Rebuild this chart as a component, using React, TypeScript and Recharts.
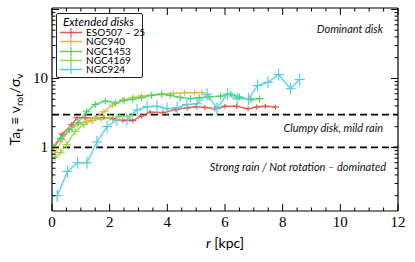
import { Label, Legend, Line, LineChart, ReferenceLine, XAxis, YAxis } from "recharts";

const xTicks = [0, 0.5, 1, 1.5, 2, 2.5, 3, 3.5, 4, 4.5, 5, 5.5, 6, 6.5, 7, 7.5, 8, 8.5, 9, 9.5, 10, 10.5, 11, 11.5, 12];
const xTickLabels = [0, 2, 4, 6, 8, 10, 12];
const yTicks = [
  0.2, 0.3, 0.4, 0.5, 0.6, 0.7, 0.8, 0.9, 1, 2, 3, 4, 5, 6, 7, 8, 9, 10, 20, 30, 40, 50, 60, 70, 80, 90, 100,
];
const yTickLabels = [1, 10];

const esoR = [0.05, 0.35, 0.69, 0.87, 1.15, 1.5, 1.8, 2.1, 2.45, 2.8, 3.1, 3.4, 3.85, 4.3, 4.7, 5.0, 5.3, 5.65, 6.0, 6.4, 6.8, 7.1, 7.4, 7.75];
const esoTa = [1.0, 1.55, 2.15, 2.7, 2.7, 2.7, 2.7, 2.6, 2.45, 2.45, 2.85, 3.25, 3.2, 3.55, 3.75, 3.9, 3.8, 3.65, 3.95, 3.95, 3.65, 3.85, 3.95, 3.85];

const n940R = [0.1, 0.35, 0.6, 0.9, 1.2, 1.5, 1.8, 2.1, 2.45, 2.8, 3.1, 3.45, 3.8, 4.2, 4.6, 4.95, 5.2];
const n940Ta = [0.85, 1.3, 1.8, 2.15, 2.4, 2.7, 3.3, 4.1, 4.9, 5.3, 5.55, 5.7, 6.0, 6.05, 6.2, 6.2, 6.25];

const n1453R = [0.06, 0.3, 0.6, 0.9, 1.2, 1.5, 1.85, 2.2, 2.5, 2.8, 3.1, 3.45, 3.8, 4.1, 4.45, 4.8, 5.1, 5.45, 5.85, 6.2, 6.5, 6.9, 7.2];
const n1453Ta = [1.0, 1.35, 1.8, 2.3, 3.3, 4.2, 4.7, 4.4, 4.8, 5.0, 5.25, 5.7, 5.9, 5.7, 5.3, 5.1, 5.25, 5.4, 5.55, 5.9, 5.4, 4.9, 5.1];

const n4169R = [0.1, 0.3, 0.5, 0.8, 1.1, 1.4, 1.7, 2.0, 2.35, 2.7];
const n4169Ta = [0.72, 0.85, 1.1, 1.7, 2.15, 2.45, 2.6, 2.7, 2.8, 2.85];

const n924R = [0.18, 0.54, 0.89, 1.21, 1.56, 1.91, 2.25, 2.6, 2.95, 3.3, 3.64, 3.99, 4.34, 4.68, 5.03, 5.38, 5.72, 6.09, 6.42, 6.82, 7.13, 7.49, 7.86, 8.27, 8.59];
const n924Ta = [0.2, 0.45, 0.6, 0.6, 1.2, 2.0, 2.5, 2.55, 3.5, 3.9, 3.95, 3.65, 3.75, 4.2, 4.3, 5.9, 3.7, 6.0, 5.1, 5.1, 7.9, 8.8, 11.4, 7.1, 9.7];

const galaxies = [
  { name: "ESO507 \u2013 25", r: esoR, ta: esoTa, color: "#e8574f", dx: 3.5, dy: 2.5 },
  { name: "NGC940", r: n940R, ta: n940Ta, color: "#e2b64c", dx: 4, dy: 3 },
  { name: "NGC1453", r: n1453R, ta: n1453Ta, color: "#45d968", dx: 4, dy: 3.5 },
  { name: "NGC4169", r: n4169R, ta: n4169Ta, color: "#98d64a", dx: 4, dy: 3.5 },
  { name: "NGC924", r: n924R, ta: n924Ta, color: "#55cfe0", dx: 5, dy: 6 },
];

const SANS = "Lato, 'Open Sans', sans-serif";
const SERIF = "'Liberation Serif', 'DejaVu Serif', serif";

function makeCross(color: string, dx: number, dy: number) {
  return (p: any) => {
    const { cx, cy, index } = p;
    if (cx == null || cy == null) return <g key={index} />;
    return (
      <g key={index} stroke={color} strokeWidth={1.2}>
        <line x1={cx - dx} x2={cx + dx} y1={cy} y2={cy} />
        <line x1={cx} x2={cx} y1={cy - dy} y2={cy + dy} />
      </g>
    );
  };
}

function BottomTick({ x, y, payload }: any) {
  const v = payload.value;
  const major = xTickLabels.includes(v);
  return (
    <g>
      <line x1={x} x2={x} y1={y} y2={y - (major ? 7 : 3.5)} stroke="#000" strokeWidth={1} />
      {major && (
        <text x={x} y={y + 16} textAnchor="middle" fontFamily={SERIF} fontSize={15} fill="#000">
          {v}
        </text>
      )}
    </g>
  );
}

function TopTick({ x, y, payload }: any) {
  const major = xTickLabels.includes(payload.value);
  return <line x1={x} x2={x} y1={y} y2={y + (major ? 7 : 3.5)} stroke="#000" strokeWidth={1} />;
}

function LeftTick({ x, y, payload }: any) {
  const v = payload.value;
  const major = v === 1 || v === 10 || v === 100;
  return (
    <g>
      <line x1={x} x2={x + (major ? 7 : 3.5)} y1={y} y2={y} stroke="#000" strokeWidth={1} />
      {yTickLabels.includes(v) && (
        <text x={x - 4} y={y + 5} textAnchor="end" fontFamily={SERIF} fontSize={15} fill="#000">
          {v}
        </text>
      )}
    </g>
  );
}

function RightTick({ x, y, payload }: any) {
  const v = payload.value;
  const major = v === 1 || v === 10 || v === 100;
  return <line x1={x} x2={x - (major ? 7 : 3.5)} y1={y} y2={y} stroke="#000" strokeWidth={1} />;
}

function YTitle({ viewBox }: any) {
  const cx = viewBox.x + 20;
  const cy = viewBox.y + viewBox.height / 2;
  return (
    <text
      x={cx}
      y={cy}
      transform={`rotate(-90, ${cx}, ${cy})`}
      textAnchor="middle"
      fontFamily={SANS}
      fontSize={14}
      fill="#000"
    >
      Ta
      <tspan dy={3} fontSize={10}>t</tspan>
      <tspan dy={-3}> {"\u2261"} v</tspan>
      <tspan dy={3} fontSize={10}>rot</tspan>
      <tspan dy={-3}>/{"\u03c3"}</tspan>
      <tspan dy={3} fontSize={10}>v</tspan>
    </text>
  );
}

function XTitle({ viewBox }: any) {
  const cx = viewBox.x + viewBox.width / 2;
  return (
    <text x={cx} y={viewBox.y + 37} textAnchor="middle" fontFamily={SANS} fontSize={14} fill="#000">
      <tspan fontStyle="italic">r</tspan> [kpc]
    </text>
  );
}

function RegimeLabels({ viewBox }: any) {
  const right = viewBox.x + viewBox.width - 15;
  const y3 = viewBox.y;
  return (
    <g fontFamily={SANS} fontStyle="italic" fontSize={11} fill="#111">
      <text x={right} y={y3 + 17} textAnchor="end">
        Clumpy disk,  mild rain
      </text>
      <text x={right} y={33} textAnchor="end">
        Dominant disk
      </text>
    </g>
  );
}

function StrongLabel({ viewBox }: any) {
  const right = viewBox.x + viewBox.width - 12;
  return (
    <text x={right} y={viewBox.y + 24} textAnchor="end" fontFamily={SANS} fontStyle="italic" fontSize={11} fill="#111">
      Strong rain / Not rotation {"\u2013"} dominated
    </text>
  );
}

function LegendBox() {
  return (
    <div
      style={{
        border: "1px solid #222",
        borderRadius: 2,
        background: "#fff",
        padding: "2px 5px 3px 3px",
        fontFamily: SANS,
        color: "#000",
        width: 77,
      }}
    >
      <div style={{ fontStyle: "italic", fontSize: 11.5, lineHeight: "12px", textAlign: "center" }}>Extended disks</div>
      {galaxies.map((g) => (
        <div key={g.name} style={{ display: "flex", alignItems: "center", height: 9.3 }}>
          <svg width={24} height={9} style={{ flex: "none" }}>
            <line x1={0} x2={22} y1={4.5} y2={4.5} stroke={g.color} strokeWidth={1.5} />
            <line x1={11} x2={11} y1={0} y2={9} stroke={g.color} strokeWidth={1.2} />
          </svg>
          <span style={{ fontSize: 10, lineHeight: "9px", marginLeft: 2, whiteSpace: "nowrap" }}>{g.name}</span>
        </div>
      ))}
    </div>
  );
}

export default function App() {
  return (
    <div style={{ position: "absolute", left: 0, top: 0, width: 415, height: 262, background: "#fff" }}>
      <LineChart width={415} height={262} margin={{ top: 7, right: 16, left: 0, bottom: 0 }}>
        <XAxis
          dataKey="r"
          type="number"
          domain={[0, 12]}
          ticks={xTicks}
          interval={0}
          allowDataOverflow
          height={51}
          tickSize={0}
          tickMargin={0}
          tickLine={false}
          tick={<BottomTick />}
          axisLine={{ stroke: "#000", strokeWidth: 1.2 }}
        >
          <Label content={<XTitle />} />
        </XAxis>
        <XAxis
          xAxisId="top"
          orientation="top"
          dataKey="r"
          type="number"
          domain={[0, 12]}
          ticks={xTicks}
          interval={0}
          allowDataOverflow
          height={1}
          tickSize={0}
          tickMargin={0}
          tickLine={false}
          tick={<TopTick />}
          axisLine={{ stroke: "#000", strokeWidth: 1.2 }}
        />
        <YAxis
          type="number"
          scale="log"
          domain={[0.12, 105]}
          ticks={yTicks}
          interval={0}
          allowDataOverflow
          width={52}
          tickSize={0}
          tickMargin={0}
          tickLine={false}
          tick={<LeftTick />}
          axisLine={{ stroke: "#000", strokeWidth: 1.2 }}
        >
          <Label content={<YTitle />} />
        </YAxis>
        <YAxis
          yAxisId="right"
          orientation="right"
          type="number"
          scale="log"
          domain={[0.12, 105]}
          ticks={yTicks}
          interval={0}
          allowDataOverflow
          width={1}
          tickSize={0}
          tickMargin={0}
          tickLine={false}
          tick={<RightTick />}
          axisLine={{ stroke: "#000", strokeWidth: 1.2 }}
        />
        <ReferenceLine y={3} stroke="#000" strokeWidth={1.8} strokeDasharray="7 4" label={<RegimeLabels />} />
        <ReferenceLine y={1} stroke="#000" strokeWidth={1.8} strokeDasharray="7 4" label={<StrongLabel />} />
        {galaxies.map((g) => (
          <Line
            key={g.name}
            name={g.name}
            data={g.r.map((r, i) => ({ r, ta: g.ta[i] }))}
            dataKey="ta"
            stroke={g.color}
            strokeWidth={1.5}
            strokeOpacity={0.9}
            dot={makeCross(g.color, g.dx, g.dy)}
            activeDot={false}
            isAnimationActive={false}
          />
        ))}
        <Legend
          layout="horizontal"
          verticalAlign="middle"
          align="center"
          content={<LegendBox />}
          wrapperStyle={{ top: 13, left: 56, width: "auto" }}
        />
      </LineChart>
    </div>
  );
}
